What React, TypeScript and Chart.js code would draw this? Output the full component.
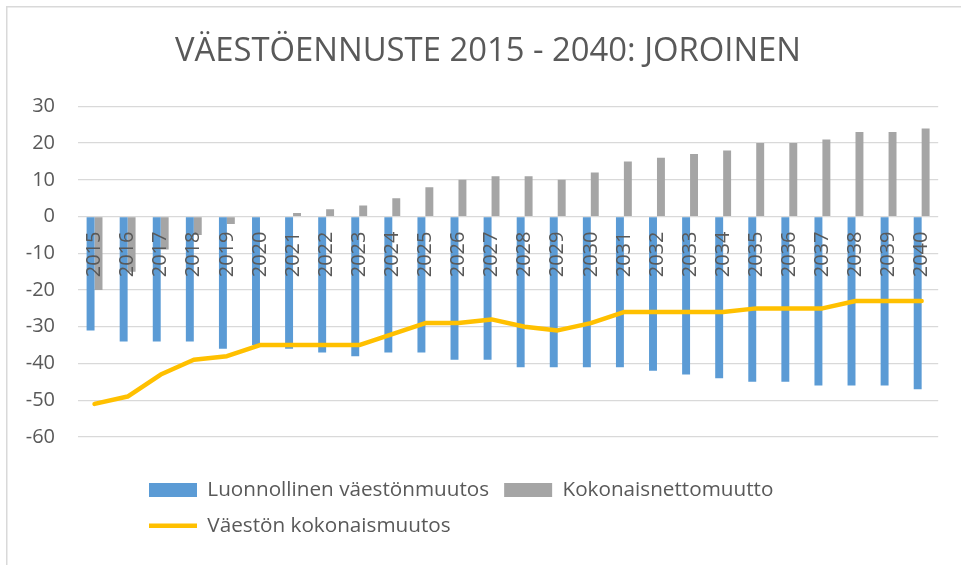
import React, { useEffect, useRef } from "react";
import { Chart, registerables } from "chart.js";

Chart.register(...registerables);

const titleText = "VÄESTÖENNUSTE 2015 - 2040: JOROINEN";
const years = [
  "2015", "2016", "2017", "2018", "2019", "2020", "2021", "2022", "2023",
  "2024", "2025", "2026", "2027", "2028", "2029", "2030", "2031", "2032",
  "2033", "2034", "2035", "2036", "2037", "2038", "2039", "2040",
];
const naturalChange = [
  -31, -34, -34, -34, -36, -35, -36, -37, -38, -37, -37, -39, -39, -41, -41,
  -41, -41, -42, -43, -44, -45, -45, -46, -46, -46, -47,
];
const netMigration = [
  -20, -15, -9, -5, -2, 0, 1, 2, 3, 5, 8, 10, 11, 11, 10, 12, 15, 16, 17, 18,
  20, 20, 21, 23, 23, 24,
];
const totalChange = [
  -51, -49, -43, -39, -38, -35, -35, -35, -35, -32, -29, -29, -28, -30, -31,
  -29, -26, -26, -26, -26, -25, -25, -25, -23, -23, -23,
];
const seriesNames = [
  "Luonnollinen väestönmuutos",
  "Kokonaisnettomuutto",
  "Väestön kokonaismuutos",
];
const yMin = -60;
const yMax = 30;
const yStep = 10;

const FONT = "'Open Sans', 'Noto Sans', sans-serif";
const TEXT = "#595959";
const GRID = "#D9D9D9";

const framePlugin = {
  id: "frame",
  beforeDraw(chart: any) {
    const ctx = chart.ctx;
    ctx.save();
    ctx.fillStyle = "#ffffff";
    ctx.fillRect(0, 0, chart.width, chart.height);
    ctx.strokeStyle = GRID;
    ctx.lineWidth = 1.5;
    ctx.strokeRect(6.75, 6.75, chart.width + 20, chart.height + 20);
    ctx.restore();
  },
};

const legendShiftPlugin = {
  id: "legendShift",
  afterLayout(chart: any) {
    const lg = chart.legend;
    if (lg) {
      lg.left = 134;
      lg.right = 961;
      lg.width = lg.right - lg.left;
    }
  },
};

export default function App() {
  const ref = useRef<HTMLCanvasElement | null>(null);

  useEffect(() => {
    document.body.style.margin = "0";
    if (!ref.current) return;
    const chart = new Chart(ref.current, {
      type: "bar",
      data: {
        labels: years,
        datasets: [
          {
            type: "bar",
            label: seriesNames[0],
            data: naturalChange,
            backgroundColor: "#5B9BD5",
            borderWidth: 0,
            order: 2,
            pointStyle: "rect",
          } as any,
          {
            type: "bar",
            label: seriesNames[1],
            data: netMigration,
            backgroundColor: "#A5A5A5",
            borderWidth: 0,
            order: 2,
            pointStyle: "rect",
          } as any,
          {
            type: "line",
            label: seriesNames[2],
            data: totalChange,
            borderColor: "#FFC000",
            backgroundColor: "#FFC000",
            borderWidth: 4.5,
            borderCapStyle: "round",
            borderJoinStyle: "round",
            pointRadius: 0,
            pointHoverRadius: 0,
            pointStyle: "line",
            tension: 0,
            order: 0,
          } as any,
        ],
      },
      options: {
        responsive: false,
        animation: false,
        devicePixelRatio: 1,
        datasets: {
          bar: { categoryPercentage: 0.48, barPercentage: 1.0 },
        },
        layout: { padding: { left: 20, right: 5, top: 0, bottom: 19 } },
        plugins: {
          tooltip: { enabled: false },
          title: {
            display: true,
            text: titleText,
            color: TEXT,
            font: { family: FONT, size: 32.8, weight: "normal" as any, lineHeight: 1.2 },
            padding: { top: 32, bottom: 35 },
          },
          legend: {
            display: true,
            position: "bottom",
            align: "start",
            title: {
              display: true,
              text: "",
              padding: 0,
              font: { size: 27.65, lineHeight: 1 },
            },
            labels: {
              usePointStyle: true,
              pointStyleWidth: 48,
              boxHeight: 14,
              padding: 15,
              color: TEXT,
              font: { family: FONT, size: 20.7 },
              sort: (a: any, b: any) => a.datasetIndex - b.datasetIndex,
            },
          },
        },
        scales: {
          x: {
            type: "category",
            position: { y: 0 } as any,
            grid: { display: false, drawTicks: false },
            border: { display: false },
            ticks: {
              z: 1,
              autoSkip: false,
              minRotation: 90,
              maxRotation: 90,
              padding: 15,
              color: TEXT,
              font: { family: FONT, size: 20 },
            },
          },
          y: {
            min: yMin,
            max: yMax,
            grid: { color: GRID, lineWidth: 1.2, drawTicks: false },
            border: { display: false },
            afterFit: (s: any) => {
              s.width = 58;
            },
            ticks: {
              stepSize: yStep,
              padding: 23,
              color: TEXT,
              font: { family: FONT, size: 20 },
            },
          },
          yRight: {
            position: "right",
            min: yMin,
            max: yMax,
            grid: { display: false, drawTicks: false },
            border: { display: false },
            ticks: { display: false },
            afterFit: (s: any) => {
              s.width = 13;
            },
          },
        },
      },
      plugins: [framePlugin, legendShiftPlugin],
    });
    return () => chart.destroy();
  }, []);

  return <canvas ref={ref} width={961} height={565} style={{ display: "block" }} />;
}
